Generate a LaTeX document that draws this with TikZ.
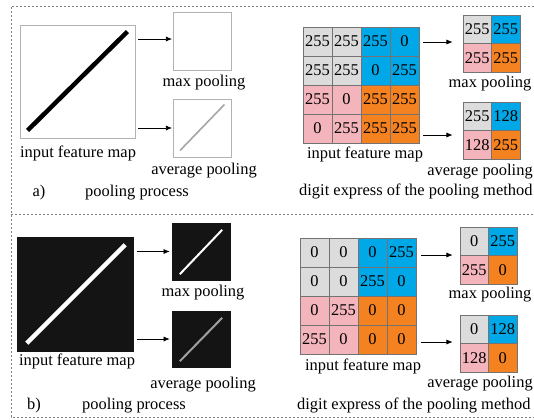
\documentclass[tikz,border=0pt]{standalone}
\usepackage{fontspec}
\setmainfont{Liberation Serif}
\usepackage{tikz}
\usetikzlibrary{arrows.meta,positioning,calc}
\definecolor{cellgray}{HTML}{DCDCDC}
\definecolor{cellblue}{HTML}{00A8E8}
\definecolor{cellpink}{HTML}{F4B4BC}
\definecolor{cellorange}{HTML}{F58220}

\begin{document}
\begin{tikzpicture}[x=1bp, y=-1bp, font=\fontsize{16.5}{19}\selectfont]
\tikzstyle{frame}=[draw=gray, dash pattern=on 2bp off 2bp, line width=0.6bp]
\tikzstyle{lbl}=[anchor=base, inner sep=0pt]
\tikzstyle{arr}=[-{Latex[length=2.2mm, width=1.8mm]}, line width=0.8bp]
\tikzstyle{map}=[draw=gray!60, fill=white, line width=0.8bp, inner sep=0pt]
\tikzstyle{dark}=[draw=black!92, fill=black!92, inner sep=0pt]
\tikzstyle{cell}=[draw=black!55, line width=0.6bp, inner sep=0pt]
\useasboundingbox (0,0) rectangle (534,419);

% dashed frame
\draw[frame] (534,6) -- (11,6) -- (11,417) -- (534,417);
\draw[frame] (11,214) -- (534,214);

% a) pooling process
\node[map, minimum width=115bp, minimum height=113bp] (inA) at (77.5,81.5) {};
\node[map, minimum size=58bp] (maxA) at (202.5,41) {};
\node[map, minimum size=58bp] (avgA) at (202.5,128) {};
\draw[line width=4.5bp] ([shift={(8bp,8bp)}]inA.south west) -- ([shift={(-8bp,-7bp)}]inA.north east);
\draw[gray!70, line width=1.6bp] ([shift={(7bp,7bp)}]avgA.south west) -- ([shift={(-7.5bp,-6bp)}]avgA.north east);
\draw[arr] ($(inA.east |- maxA.west)+(3,-2)$) -- ($(maxA.west)+(-1,-2)$);
\draw[arr] ($(inA.east |- avgA.west)+(3,0)$) -- ($(avgA.west)+(-1,0)$);
\node[lbl] (inAlbl) at (78,157) {input feature map};
\node[lbl] (maxAlbl) at (204,86) {max pooling};
\node[lbl] (avgAlbl) at (204,174) {average pooling};
\node[lbl] (tagA) at (39,196) {a)};
\node[lbl] (procA) at (137,196) {pooling process};

% a) digit express
\foreach \v/\c [count=\i from 0] in {255/cellgray,255/cellgray,255/cellblue,0/cellblue,
    255/cellgray,255/cellgray,0/cellblue,255/cellblue,
    255/cellpink,0/cellpink,255/cellorange,255/cellorange,
    0/cellpink,255/cellpink,255/cellorange,255/cellorange}
  \node[cell, fill=\c, minimum size=29bp] (ta\i) at ({317.5+29*mod(\i,4)},{41.5+29*int(\i/4)}) {\v};
\foreach \v/\c [count=\i from 0] in {255/cellgray,255/cellblue,255/cellpink,255/cellorange}
  \node[cell, fill=\c, minimum size=28.5bp] (tm\i) at ({477.25+28.5*mod(\i,2)},{29.25+28.5*int(\i/2)}) {\v};
\foreach \v/\c [count=\i from 0] in {255/cellgray,128/cellblue,128/cellpink,255/cellorange}
  \node[cell, fill=\c, minimum size=28.5bp] (tv\i) at ({477.25+28.5*mod(\i,2)},{116.25+28.5*int(\i/2)}) {\v};
\draw[arr] ($(ta3.east)+(4,0.5)$) -- ($(ta3.east -| tm0.west)+(-10,0.5)$);
\draw[arr] ($(ta15.east)+(4,6.5)$) -- ($(ta15.east -| tv0.west)+(-10,6.5)$);
\node[lbl] (taLbl) at (365,158) {input feature map};
\node[lbl] (tmLbl) at (490,87) {max pooling};
\node[lbl] (tvLbl) at (480,175) {average pooling};
\node[lbl, anchor=base west] (digA) at (299,195) {digit express of the pooling method};

% b) pooling process
\node[dark, minimum width=116bp, minimum height=114bp] (inB) at (75,294) {};
\node[dark, minimum width=58bp, minimum height=57bp] (maxB) at (201,251.5) {};
\node[dark, minimum width=58bp, minimum height=56bp] (avgB) at (201,339) {};
\draw[white, line width=4.5bp] ([shift={(10bp,8bp)}]inB.south west) -- ([shift={(-8bp,-8bp)}]inB.north east);
\draw[white, line width=2bp] ([shift={(8bp,6bp)}]maxB.south west) -- ([shift={(-8bp,-7bp)}]maxB.north east);
\draw[gray!75, line width=2bp] ([shift={(8bp,6bp)}]avgB.south west) -- ([shift={(-8bp,-7bp)}]avgB.north east);
\draw[arr] ($(inB.east |- maxB.west)+(4,0)$) -- ($(maxB.west)+(-2,0)$);
\draw[arr] ($(inB.east |- avgB.west)+(4,0)$) -- ($(avgB.west)+(-2,0)$);
\node[lbl] (inBlbl) at (77,365) {input feature map};
\node[lbl] (maxBlbl) at (203,296) {max pooling};
\node[lbl] (avgBlbl) at (203,388) {average pooling};
\node[lbl] (tagB) at (34,409) {b)};
\node[lbl] (procB) at (134,409) {pooling process};

% b) digit express
\foreach \v/\c [count=\i from 0] in {0/cellgray,0/cellgray,0/cellblue,255/cellblue,
    0/cellgray,0/cellgray,255/cellblue,0/cellblue,
    0/cellpink,255/cellpink,0/cellorange,0/cellorange,
    255/cellpink,0/cellpink,0/cellorange,0/cellorange}
  \node[cell, fill=\c, minimum size=29bp] (ba\i) at ({314.5+29*mod(\i,4)},{252.5+29*int(\i/4)}) {\v};
\foreach \v/\c [count=\i from 0] in {0/cellgray,255/cellblue,255/cellpink,0/cellorange}
  \node[cell, fill=\c, minimum size=28.5bp] (bm\i) at ({474.25+28.5*mod(\i,2)},{241.25+28.5*int(\i/2)}) {\v};
\foreach \v/\c [count=\i from 0] in {0/cellgray,128/cellblue,128/cellpink,0/cellorange}
  \node[cell, fill=\c, minimum size=28.5bp] (bv\i) at ({474.25+28.5*mod(\i,2)},{329.25+28.5*int(\i/2)}) {\v};
\draw[arr] ($(ba3.east)+(5,2.5)$) -- ($(ba3.east -| bm0.west)+(-7,2.5)$);
\draw[arr] ($(ba15.east)+(5,2.5)$) -- ($(ba15.east -| bv0.west)+(-7,2.5)$);
\node[lbl] (baLbl) at (363,370) {input feature map};
\node[lbl] (bmLbl) at (490,298) {max pooling};
\node[lbl] (bvLbl) at (480,387) {average pooling};
\node[lbl, anchor=base west] (digB) at (297,409) {digit express of the pooling method};
\end{tikzpicture}
\end{document}
